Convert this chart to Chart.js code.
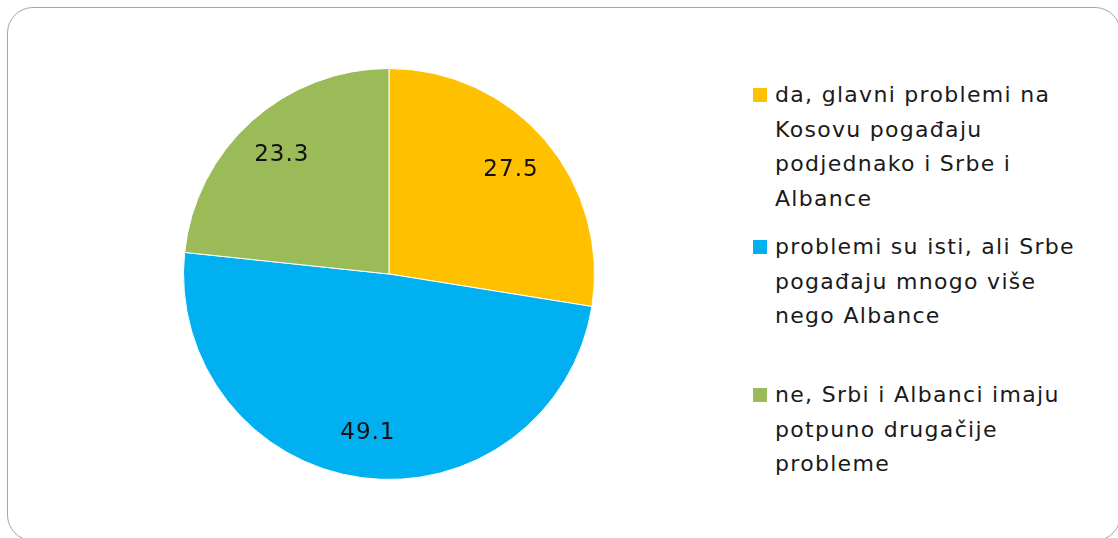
<html>
<head>
    <meta charset="utf-8">
    <title>Kosovo - problemi</title>
    <script src="https://cdn.jsdelivr.net/npm/chart.js"></script>
    <style>
        body {
            margin: 0;
            width: 1118px;
            height: 538px;
            overflow: hidden;
            background: white;
            font-family: 'DejaVu Sans', sans-serif;
        }

        .frame {
            position: absolute;
            left: 7px;
            top: 7px;
            width: 1112px;
            height: 532px;
            border: 1.5px solid #a6a6a6;
            border-radius: 26px;
        }

        .pie-box {
            position: absolute;
            left: 183px;
            top: 68px;
            width: 412px;
            height: 412px;
        }

        .legend {
            position: absolute;
            left: 753px;
            top: 0;
        }

        .legend-item {
            position: absolute;
            left: 0;
            white-space: nowrap;
            font-size: 22px;
            letter-spacing: 1.3px;
            line-height: 34.5px;
            color: #1a1a1a;
        }

        .legend-item .box {
            position: absolute;
            left: 0;
            top: 10px;
            width: 14px;
            height: 14px;
        }

        .legend-item .txt {
            margin-left: 22px;
        }
    </style>
</head>

<body>
    <div class="frame"></div>
    <div class="pie-box"><canvas id="pieChart"></canvas></div>
    <div class="legend" id="legend"></div>

    <script>
        // labels split into the lines they show on in the legend
        var categories = [
            ["da, glavni problemi na", "Kosovu pogađaju", "podjednako i Srbe i", "Albance"],
            ["problemi su isti, ali Srbe", "pogađaju mnogo više", "nego Albance"],
            ["ne, Srbi i Albanci imaju", "potpuno drugačije", "probleme"]
        ];
        var values = [27.5, 49.1, 23.3];
        var colors = ["#FFC000", "#00B0F0", "#9BBB59"];
        var legendTops = [78, 230, 378];

        var legendHtml = "";
        for (var i = 0; i < categories.length; i++) {
            legendHtml += `
                <div class="legend-item" style="top:${legendTops[i]}px">
                    <span class="box" style="background:${colors[i]}"></span>
                    <div class="txt">${categories[i].join("<br>")}</div>
                </div>`;
        }
        document.getElementById("legend").innerHTML = legendHtml;

        var valueLabels = {
            id: "valueLabels",
            afterDatasetsDraw: function (chart) {
                var ctx = chart.ctx;
                var meta = chart.getDatasetMeta(0);
                ctx.save();
                ctx.font = "23px 'DejaVu Sans', sans-serif";
                ctx.letterSpacing = "1px";
                ctx.fillStyle = "#111111";
                ctx.textAlign = "center";
                ctx.textBaseline = "middle";
                meta.data.forEach(function (arc, idx) {
                    var mid = (arc.startAngle + arc.endAngle) / 2;
                    var r = arc.outerRadius * 0.78;
                    var x = arc.x + Math.cos(mid) * r;
                    var y = arc.y + Math.sin(mid) * r;
                    ctx.fillText(values[idx].toFixed(1), x, y);
                });
                ctx.restore();
            }
        };

        new Chart(document.getElementById("pieChart"), {
            type: "pie",
            data: {
                labels: categories.map(c => c.join(" ")),
                datasets: [{
                    data: values,
                    backgroundColor: colors,
                    borderColor: "#ffffff",
                    borderWidth: 1
                }]
            },
            options: {
                responsive: true,
                maintainAspectRatio: false,
                animation: false,
                layout: { padding: 0 },
                plugins: {
                    legend: { display: false },
                    tooltip: { enabled: false }
                }
            },
            plugins: [valueLabels]
        });
    </script>
</body>
</html>
